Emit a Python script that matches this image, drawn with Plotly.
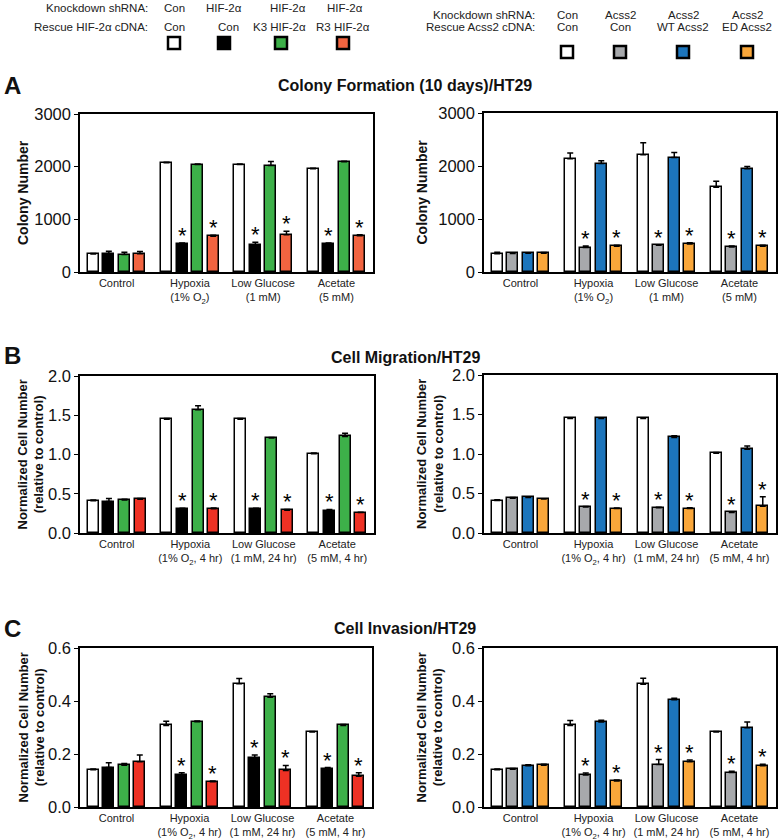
import plotly.graph_objects as go

FONT = "Arial, Liberation Sans, sans-serif"

groups = ["Control", "Hypoxia", "Low Glucose", "Acetate"]
labels_A = ["Control", "Hypoxia<br>(1% O<sub>2</sub>)", "Low Glucose<br>(1 mM)", "Acetate<br>(5 mM)"]
labels_BC = ["Control", "Hypoxia<br>(1% O<sub>2</sub>, 4 hr)", "Low Glucose<br>(1 mM, 24 hr)", "Acetate<br>(5 mM, 4 hr)"]

# ---- Panel A: colony formation ----
A_hif_con = [340, 2075, 2040, 1960]
A_hif_con_err = [10, 10, 10, 10]
A_hif_kd = [350, 535, 515, 535]
A_hif_kd_err = [45, 15, 50, 15]
A_hif_k3 = [330, 2040, 2020, 2095]
A_hif_k3_err = [45, 10, 80, 10]
A_hif_r3 = [345, 680, 705, 690]
A_hif_r3_err = [45, 20, 70, 15]

A_acs_con = [345, 2135, 2210, 1598]
A_acs_con_err = [30, 110, 230, 115]
A_acs_kd = [350, 462, 505, 470]
A_acs_kd_err = [10, 30, 10, 20]
A_acs_wt = [355, 2045, 2160, 1950]
A_acs_wt_err = [10, 55, 95, 40]
A_acs_ed = [355, 485, 530, 485]
A_acs_ed_err = [15, 20, 20, 20]

# ---- Panel B: migration ----
B_hif_con = [0.41, 1.45, 1.45, 1.01]
B_hif_con_err = [0.01, 0.01, 0.01, 0.01]
B_hif_kd = [0.40, 0.31, 0.31, 0.28]
B_hif_kd_err = [0.04, 0.005, 0.005, 0.02]
B_hif_k3 = [0.42, 1.57, 1.21, 1.23]
B_hif_k3_err = [0.01, 0.05, 0.005, 0.04]
B_hif_r3 = [0.43, 0.31, 0.29, 0.26]
B_hif_r3_err = [0.01, 0.01, 0.01, 0.005]

B_acs_con = [0.41, 1.45, 1.45, 1.01]
B_acs_con_err = [0.01, 0.01, 0.01, 0.01]
B_acs_kd = [0.44, 0.33, 0.32, 0.26]
B_acs_kd_err = [0.01, 0.005, 0.005, 0.01]
B_acs_wt = [0.45, 1.45, 1.21, 1.06]
B_acs_wt_err = [0.005, 0.005, 0.02, 0.04]
B_acs_ed = [0.43, 0.31, 0.31, 0.34]
B_acs_ed_err = [0.005, 0.005, 0.01, 0.12]

# ---- Panel C: invasion ----
C_hif_con = [0.141, 0.308, 0.465, 0.283]
C_hif_con_err = [0.002, 0.016, 0.020, 0.002]
C_hif_kd = [0.149, 0.121, 0.184, 0.144]
C_hif_kd_err = [0.018, 0.008, 0.012, 0.005]
C_hif_k3 = [0.158, 0.322, 0.414, 0.308]
C_hif_k3_err = [0.006, 0.003, 0.013, 0.003]
C_hif_r3 = [0.171, 0.095, 0.138, 0.116]
C_hif_r3_err = [0.025, 0.003, 0.019, 0.013]

C_acs_con = [0.141, 0.308, 0.463, 0.283]
C_acs_con_err = [0.002, 0.018, 0.023, 0.002]
C_acs_kd = [0.142, 0.121, 0.160, 0.130]
C_acs_kd_err = [0.003, 0.007, 0.019, 0.005]
C_acs_wt = [0.156, 0.321, 0.405, 0.299]
C_acs_wt_err = [0.003, 0.006, 0.005, 0.022]
C_acs_ed = [0.158, 0.098, 0.171, 0.156]
C_acs_ed_err = [0.003, 0.004, 0.006, 0.005]

# significance: which groups get an asterisk (for knockdown & mutant-rescue series)
sig = [False, True, True, True]

WHITE = "#FFFFFF"
BLACK = "#000000"
GREEN = "#3DB049"
RED_A = "#F26440"
RED_BC = "#EE3124"
GREY = "#A7A9AC"
BLUE = "#1C75BC"
ORANGE = "#FAA73A"

W = 778.0
H = 840.0

def px(x):
    return x / W

def py(y):
    return 1 - y / H

YT_COL = "<b>Colony Number</b>"
YT_NORM = "<b>Normalized Cell Number<br>(relative to control)</b>"

panels = [
    dict(xd=(80, 373), yd=(114, 272), yr=[0, 3000], dtick=1000, fmt="d",
         ytitle=YT_COL, tsize=14, tx=23, xl=labels_A,
         series=[(A_hif_con, A_hif_con_err, WHITE, False), (A_hif_kd, A_hif_kd_err, BLACK, True),
                 (A_hif_k3, A_hif_k3_err, GREEN, False), (A_hif_r3, A_hif_r3_err, RED_A, True)]),
    dict(xd=(484, 776), yd=(113, 272), yr=[0, 3000], dtick=1000, fmt="d",
         ytitle=YT_COL, tsize=14, tx=422, xl=labels_A,
         series=[(A_acs_con, A_acs_con_err, WHITE, False), (A_acs_kd, A_acs_kd_err, GREY, True),
                 (A_acs_wt, A_acs_wt_err, BLUE, False), (A_acs_ed, A_acs_ed_err, ORANGE, True)]),
    dict(xd=(80, 374), yd=(376, 533), yr=[0, 2.0], dtick=0.5, fmt=".1f",
         ytitle=YT_NORM, tsize=13, tx=31, xl=labels_BC,
         series=[(B_hif_con, B_hif_con_err, WHITE, False), (B_hif_kd, B_hif_kd_err, BLACK, True),
                 (B_hif_k3, B_hif_k3_err, GREEN, False), (B_hif_r3, B_hif_r3_err, RED_BC, True)]),
    dict(xd=(484, 776), yd=(375, 533), yr=[0, 2.0], dtick=0.5, fmt=".1f",
         ytitle=YT_NORM, tsize=13, tx=430, xl=labels_BC,
         series=[(B_acs_con, B_acs_con_err, WHITE, False), (B_acs_kd, B_acs_kd_err, GREY, True),
                 (B_acs_wt, B_acs_wt_err, BLUE, False), (B_acs_ed, B_acs_ed_err, ORANGE, True)]),
    dict(xd=(80, 372), yd=(648, 807), yr=[0, 0.6], dtick=0.2, fmt=".1f",
         ytitle=YT_NORM, tsize=13, tx=31, xl=labels_BC,
         series=[(C_hif_con, C_hif_con_err, WHITE, False), (C_hif_kd, C_hif_kd_err, BLACK, True),
                 (C_hif_k3, C_hif_k3_err, GREEN, False), (C_hif_r3, C_hif_r3_err, RED_BC, True)]),
    dict(xd=(484, 776), yd=(648, 807), yr=[0, 0.6], dtick=0.2, fmt=".1f",
         ytitle=YT_NORM, tsize=13, tx=429, xl=labels_BC,
         series=[(C_acs_con, C_acs_con_err, WHITE, False), (C_acs_kd, C_acs_kd_err, GREY, True),
                 (C_acs_wt, C_acs_wt_err, BLUE, False), (C_acs_ed, C_acs_ed_err, ORANGE, True)]),
]

fig = go.Figure()
layout = {}
annotations = []
shapes = []

SLOT = 0.2125
BARW = 0.15
xpos = list(range(len(groups)))

for k, p in enumerate(panels):
    n = k + 1
    xa = "x" if n == 1 else f"x{n}"
    ya = "y" if n == 1 else f"y{n}"
    xkey = "xaxis" if n == 1 else f"xaxis{n}"
    ykey = "yaxis" if n == 1 else f"yaxis{n}"
    for j, (vals, errs, col, star) in enumerate(p["series"]):
        xs = [g + (j - 1.5) * SLOT for g in xpos]
        fig.add_trace(go.Bar(
            x=xs, y=vals, width=BARW, xaxis=xa, yaxis=ya,
            marker=dict(color=col, line=dict(color="black", width=1.5)),
            error_y=dict(type="data", array=errs, arrayminus=[0] * len(errs), symmetric=False,
                         color="black", thickness=1.5, width=3),
            showlegend=False, hoverinfo="skip",
        ))
        if star:
            for xi, v, e, s in zip(xs, vals, errs, sig):
                if s:
                    annotations.append(dict(
                        x=xi, y=v + e, xref=xa, yref=ya, text="*", showarrow=False,
                        yanchor="bottom", yshift=-7,
                        font=dict(family=FONT, size=22, color="black")))
    layout[xkey] = dict(
        domain=[px(p["xd"][0]), px(p["xd"][1])], anchor=ya, range=[-0.5, 3.5],
        tickvals=xpos, ticktext=p["xl"], ticks="", showline=True, linecolor="black",
        linewidth=1.5, mirror=True, showgrid=False, zeroline=False, automargin=False,
        tickfont=dict(family=FONT, size=11, color="#222"), fixedrange=True,
    )
    layout[ykey] = dict(
        domain=[py(p["yd"][1]), py(p["yd"][0])], anchor=xa, range=p["yr"], dtick=p["dtick"],
        tickformat=p["fmt"], ticks="outside", ticklen=4, tickwidth=1.2, tickcolor="black",
        showline=True, linecolor="black", linewidth=1.5, mirror=True, showgrid=False,
        zeroline=False, automargin=False, tickfont=dict(family=FONT, size=16.5, color="#111"),
        fixedrange=True,
    )
    annotations.append(dict(
        x=px(p["tx"]), y=py((p["yd"][0] + p["yd"][1]) / 2), xref="paper", yref="paper",
        text=p["ytitle"], textangle=-90, showarrow=False, xanchor="center", yanchor="middle",
        font=dict(family=FONT, size=p["tsize"], color="#111")))

# Titles and panel letters
for txt, y in [("<b>Colony Formation (10 days)/HT29</b>", 86),
               ("<b>Cell Migration/HT29</b>", 357),
               ("<b>Cell Invasion/HT29</b>", 628)]:
    annotations.append(dict(x=px(405), y=py(y), xref="paper", yref="paper", text=txt,
                            showarrow=False, xanchor="center", yanchor="middle",
                            font=dict(family=FONT, size=16, color="#111")))
for txt, y in [("<b>A</b>", 86), ("<b>B</b>", 355), ("<b>C</b>", 628)]:
    annotations.append(dict(x=px(2), y=py(y), xref="paper", yref="paper", text=txt,
                            showarrow=False, xanchor="left", yanchor="middle",
                            font=dict(family=FONT, size=24, color="#111")))

# Custom header legends
leg_left_rows = ["Knockdown shRNA:", "Rescue HIF-2α cDNA:"]
leg_left_kd = ["Con", "HIF-2α", "HIF-2α", "HIF-2α"]
leg_left_res = ["Con", "Con", "K3 HIF-2α", "R3 HIF-2α"]
leg_left_cols = [WHITE, BLACK, GREEN, RED_A]
leg_right_rows = ["Knockdown shRNA:", "Rescue Acss2 cDNA:"]
leg_right_kd = ["Con", "Acss2", "Acss2", "Acss2"]
leg_right_res = ["Con", "Con", "WT Acss2", "ED Acss2"]
leg_right_cols = [WHITE, GREY, BLUE, ORANGE]

def header(rows, kd, res, cols, xlab, xkd, xres, xsq, yrows, ysq):
    fnt = dict(family=FONT, size=11.5, color="#222")
    for t, y in zip(rows, yrows):
        annotations.append(dict(x=px(xlab), y=py(y), xref="paper", yref="paper", text=t,
                                showarrow=False, xanchor="right", yanchor="middle", font=fnt))
    for t, x in zip(kd, xkd):
        annotations.append(dict(x=px(x), y=py(yrows[0]), xref="paper", yref="paper", text=t,
                                showarrow=False, xanchor="center", yanchor="middle", font=fnt))
    for t, x in zip(res, xres):
        annotations.append(dict(x=px(x), y=py(yrows[1]), xref="paper", yref="paper", text=t,
                                showarrow=False, xanchor="center", yanchor="middle", font=fnt))
    for c, x in zip(cols, xsq):
        shapes.append(dict(type="rect", xref="paper", yref="paper",
                           x0=px(x - 6), x1=px(x + 6), y0=py(ysq + 6), y1=py(ysq - 6),
                           fillcolor=c, line=dict(color="black", width=2.5)))

header(leg_left_rows, leg_left_kd, leg_left_res, leg_left_cols, 150,
       [174, 224, 288, 345], [174, 228, 279, 343], [174, 224, 281, 343], [8, 27], 43)
header(leg_right_rows, leg_right_kd, leg_right_res, leg_right_cols, 537,
       [567, 620, 683, 747], [567, 620, 683, 747], [567, 620, 683, 747], [15, 27.5], 52)

fig.update_layout(
    width=778, height=840, margin=dict(l=0, r=0, t=0, b=0, autoexpand=False),
    paper_bgcolor="white", plot_bgcolor="white",
    barmode="overlay", bargap=0,
    annotations=annotations, shapes=shapes, showlegend=False,
    font=dict(family=FONT, color="#111"),
    **layout,
)

fig.write_html("out.html", config={"displayModeBar": False},
               post_script="document.body.style.margin='0';document.body.style.overflow='hidden';")
